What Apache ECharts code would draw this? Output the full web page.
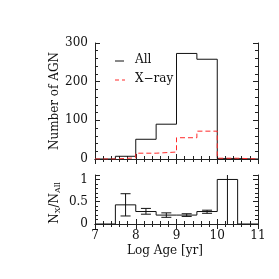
<!DOCTYPE html>
<html><head><meta charset="utf-8">
<script src="https://cdn.jsdelivr.net/npm/echarts@6/dist/echarts.min.js"></script>
<style>html,body{margin:0;padding:0;background:#fff}#c{width:279px;height:279px}</style>
</head><body><div id="c"></div>
<script>
var binEdges = [7, 7.5, 8, 8.5, 9, 9.5, 10, 10.5, 11];
var allCounts = [0, 7, 51, 90, 273, 258, 1, 0];
var xrayCounts = [0, 3, 15, 18, 55, 72, 2, 0];
var ratioValues = [0, 0.43, 0.28, 0.2, 0.2, 0.28, 1.0, 0];
var errCenters = [7.75, 8.25, 8.75, 9.25, 9.75, 10.25];
var errLow = [0.18, 0.22, 0.15, 0.17, 0.24, -0.5];
var errHigh = [0.68, 0.35, 0.25, 0.23, 0.31, 2.0];
var topTicks = [0, 100, 200, 300];
var bottomTicks = [0, 0.5, 1];
var xTicks = [7, 8, 9, 10, 11];

function stepData(vals) {
  var d = [];
  for (var i = 0; i < vals.length; i++) d.push([binEdges[i], vals[i]]);
  d.push([binEdges[binEdges.length - 1], vals[vals.length - 1]]);
  return d;
}
var errData = errCenters.map(function (c, i) { return [c, errLow[i], errHigh[i]]; });

var FONT = 'DejaVu Serif';
var AX = '#222';
function xAx(gi, pos, labels) {
  return {
    type: 'value', gridIndex: gi, position: pos, min: xTicks[0], max: xTicks[xTicks.length - 1], interval: 1,
    axisLine: { show: true, lineStyle: { color: AX, width: 1 } },
    axisTick: { show: true, inside: true, length: 5, lineStyle: { color: AX } },
    minorTick: { show: true, splitNumber: 5, length: 3, lineStyle: { color: AX } },
    axisLabel: { show: labels, color: '#111', fontFamily: FONT, fontSize: 12, margin: 6 },
    splitLine: { show: false }
  };
}
function yAx(gi, pos, max, interval, labels) {
  return {
    type: 'value', gridIndex: gi, position: pos, min: 0, max: max, interval: interval,
    axisLine: { show: true, lineStyle: { color: AX, width: 1 } },
    axisTick: { show: true, inside: true, length: 5, lineStyle: { color: AX } },
    minorTick: { show: true, splitNumber: 5, length: 3, lineStyle: { color: AX } },
    axisLabel: { show: labels, color: '#111', fontFamily: FONT, fontSize: 12, margin: 7, showMaxLabel: max % interval === 0,
      formatter: function (v) { return String(v); } },
    splitLine: { show: false }
  };
}

var chart = echarts.init(document.getElementById('c'), null, { renderer: 'canvas' });
chart.setOption({
  animation: false,
  backgroundColor: '#fff',
  grid: [
    { left: 95, width: 163, top: 43, height: 116 },
    { left: 95, width: 163, top: 175, height: 49 }
  ],
  xAxis: [xAx(0, 'bottom', false), xAx(0, 'top', false), xAx(1, 'bottom', true), xAx(1, 'top', false)],
  yAxis: [yAx(0, 'left', 300, 100, true), yAx(0, 'right', 300, 100, false), yAx(1, 'left', 1.1, 0.5, true), yAx(1, 'right', 1.1, 0.5, false)],
  series: [
    { type: 'line', xAxisIndex: 0, yAxisIndex: 0, step: 'end', data: stepData(allCounts), symbol: 'none',
      lineStyle: { color: '#111', width: 1 }, z: 3 },
    { type: 'line', xAxisIndex: 0, yAxisIndex: 0, step: 'end', data: stepData(xrayCounts), symbol: 'none',
      lineStyle: { color: '#ff2a2a', width: 1, type: [5, 3] }, z: 4 },
    { type: 'line', xAxisIndex: 2, yAxisIndex: 2, step: 'end', data: stepData(ratioValues), symbol: 'none',
      lineStyle: { color: '#111', width: 1 }, z: 3 },
    { type: 'custom', xAxisIndex: 2, yAxisIndex: 2, data: errData, clip: true, z: 4,
      renderItem: function (params, api) {
        var x = api.value(0), lo = api.value(1), hi = api.value(2);
        var p1 = api.coord([x, lo]), p2 = api.coord([x, hi]);
        var hw = 5, st = { stroke: '#111', lineWidth: 1 };
        return { type: 'group', children: [
          { type: 'line', shape: { x1: p1[0], y1: p1[1], x2: p2[0], y2: p2[1] }, style: st },
          { type: 'line', shape: { x1: p1[0] - hw, y1: p1[1], x2: p1[0] + hw, y2: p1[1] }, style: st },
          { type: 'line', shape: { x1: p2[0] - hw, y1: p2[1], x2: p2[0] + hw, y2: p2[1] }, style: st }
        ] };
      } }
  ],
  graphic: [
    { type: 'line', shape: { x1: 115, y1: 61, x2: 124, y2: 61 }, style: { stroke: '#111', lineWidth: 1 } },
    { type: 'text', left: 135, top: 54, style: { text: 'All', font: '12px "DejaVu Serif"', fill: '#111' } },
    { type: 'line', shape: { x1: 115, y1: 80, x2: 125, y2: 80 }, style: { stroke: '#ff2a2a', lineWidth: 1, lineDash: [4, 3] } },
    { type: 'text', left: 135, top: 73, style: { text: 'X\u2212ray', font: '12px "DejaVu Serif"', fill: '#111' } },
    { type: 'text', x: 55, y: 101, rotation: Math.PI / 2, style: { text: 'Number of AGN', font: '12px "DejaVu Serif"', fill: '#111', align: 'center', verticalAlign: 'middle' } },
    { type: 'text', x: 55, y: 203, rotation: Math.PI / 2, style: { text: 'N{s|X}/N{s|All}', font: '12px "DejaVu Serif"', fill: '#111', align: 'center', verticalAlign: 'middle',
      rich: { s: { fontSize: 8, fontFamily: 'DejaVu Serif', verticalAlign: 'bottom', padding: [6, 0, 0, 0] } } } },
    { type: 'text', x: 165, y: 251, style: { text: 'Log Age [yr]', font: '12px "DejaVu Serif"', fill: '#111', align: 'center', verticalAlign: 'middle' } }
  ]
});
</script></body></html>
